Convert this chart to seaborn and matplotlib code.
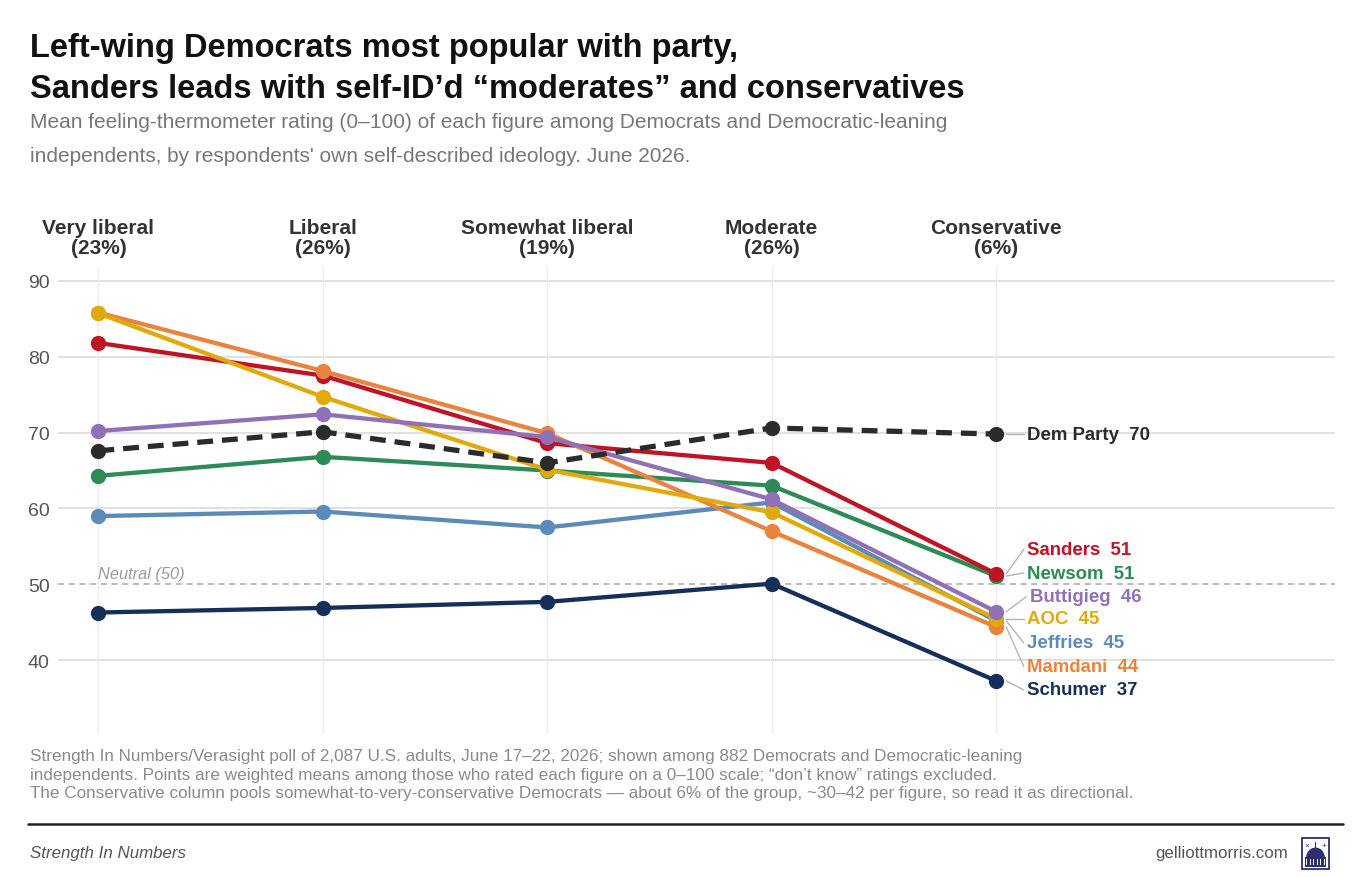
import matplotlib
matplotlib.use("Agg")
import matplotlib.pyplot as plt
import matplotlib.patches as mpatches
import seaborn as sns
import pandas as pd
import numpy as np

# ---------------- data ----------------
categories = ["Very liberal", "Liberal", "Somewhat liberal", "Moderate", "Conservative"]
shares = ["23%", "26%", "19%", "26%", "6%"]

schumer   = [46.3, 46.9, 47.7, 50.1, 37.3]
jeffries  = [59.0, 59.6, 57.5, 60.8, 45.2]
newsom    = [64.3, 66.8, 65.0, 63.0, 51.1]
sanders   = [81.8, 77.5, 68.6, 66.0, 51.4]
mamdani   = [85.8, 78.1, 69.9, 57.0, 44.4]
aoc       = [85.7, 74.7, 65.1, 59.5, 45.5]
buttigieg = [70.2, 72.4, 69.4, 61.2, 46.4]
dem_party = [67.6, 70.1, 66.0, 70.6, 69.8]

series_names = ["Schumer", "Jeffries", "Newsom", "Sanders", "Mamdani", "AOC", "Buttigieg", "Dem Party"]
series_vals = [schumer, jeffries, newsom, sanders, mamdani, aoc, buttigieg, dem_party]
end_labels = [37, 45, 51, 51, 44, 45, 46, 70]

# ---------------- style ----------------
colors = {
    "Schumer": "#14305a",
    "Jeffries": "#5b8cb9",
    "Newsom": "#2e8b57",
    "Sanders": "#bf1426",
    "Mamdani": "#e8843f",
    "AOC": "#e1aa0c",
    "Buttigieg": "#9071b8",
    "Dem Party": "#2b2b2b",
}
label_y = {
    "Dem Party": 69.8, "Sanders": 54.6, "Newsom": 51.5, "Buttigieg": 48.4,
    "AOC": 45.5, "Jeffries": 42.3, "Mamdani": 39.2, "Schumer": 36.1,
}

sns.set_theme(style="white")
plt.rcParams["font.family"] = ["Liberation Sans", "DejaVu Sans"]

rows = []
for name, vals in zip(series_names, series_vals):
    for i, v in enumerate(vals):
        rows.append({"figure": name, "x": i, "rating": v})
df = pd.DataFrame(rows)

fig = plt.figure(figsize=(13.72, 8.78), dpi=100)
ax = fig.add_axes([58 / 1372, 1 - 735 / 878, (1335 - 58) / 1372, (735 - 268) / 878])

ax.set_xlim(-0.18, 5.51)
ax.set_ylim(30.3, 91.8)

# grid
for yv in [40, 60, 70, 80, 90]:
    ax.axhline(yv, color="#dcdcdc", lw=1.2, zorder=0)
for xv in range(len(categories)):
    ax.axvline(xv, color="#ececec", lw=1.0, zorder=0)
ax.axhline(50, color="#a8a8a8", lw=1.1, ls=(0, (4, 3)), zorder=0.5)
ax.text(0.0, 50.5, "Neutral (50)", color="#9a9a9a", fontsize=11.8, style="italic",
        ha="left", va="bottom")

for name in series_names:
    sub = df[df["figure"] == name]
    dashed = name == "Dem Party"
    sns.lineplot(data=sub, x="x", y="rating", ax=ax, color=colors[name],
                 lw=3.8 if dashed else 3.1, marker="o", markersize=11,
                 markeredgewidth=0, linestyle=(0, (3.0, 1.7)) if dashed else "-",
                 legend=False, zorder=3, estimator=None)

# end labels with leader lines
lx = 4 + 31 / 224.5
for name, vals, lab in zip(series_names, series_vals, end_labels):
    y0 = vals[-1]
    ly = label_y[name]
    xoff = 0.012 if name == "Buttigieg" else 0.0
    ax.plot([4.045, lx - 0.015 + xoff], [y0, ly], color="#b5b5b5", lw=1.0, zorder=2)
    ax.text(lx + xoff, ly, f"{name}  {lab}", color=colors[name], fontsize=13.4,
            fontweight="bold", ha="left", va="center")

# axes cosmetics
for s in ax.spines.values():
    s.set_visible(False)
ax.set_xlabel("")
ax.set_ylabel("")
ax.set_yticks([40, 50, 60, 70, 80, 90])
ax.tick_params(axis="y", length=0, pad=6, labelsize=14, labelcolor="#555555")
ax.xaxis.tick_top()
ax.set_xticks(range(len(categories)))
ax.set_xticklabels([f"{c}\n({s})" for c, s in zip(categories, shares)],
                   fontweight="bold", fontsize=15, color="#333333", linespacing=1.1)
ax.tick_params(axis="x", length=0, pad=7)

# titles
fig.text(30 / 1372, 1 - 48 / 878, "Left-wing Democrats most popular with party,",
         fontsize=23.5, fontweight="bold", color="#111111", ha="left", va="center")
fig.text(30 / 1372, 1 - 90 / 878, "Sanders leads with self-ID\u2019d \u201cmoderates\u201d and conservatives",
         fontsize=23.5, fontweight="bold", color="#111111", ha="left", va="center")
fig.text(30 / 1372, 1 - 122 / 878,
         "Mean feeling-thermometer rating (0\u2013100) of each figure among Democrats and Democratic-leaning",
         fontsize=15, color="#777777", ha="left", va="center")
fig.text(30 / 1372, 1 - 156 / 878,
         "independents, by respondents' own self-described ideology. June 2026.",
         fontsize=15, color="#777777", ha="left", va="center")

# footnotes
notes = [
    "Strength In Numbers/Verasight poll of 2,087 U.S. adults, June 17\u201322, 2026; shown among 882 Democrats and Democratic-leaning",
    "independents. Points are weighted means among those who rated each figure on a 0\u2013100 scale; \u201cdon\u2019t know\u201d ratings excluded.",
    "The Conservative column pools somewhat-to-very-conservative Democrats \u2014 about 6% of the group, ~30\u201342 per figure, so read it as directional.",
]
for i, t in enumerate(notes):
    fig.text(30 / 1372, 1 - (757 + 18.5 * i) / 878, t, fontsize=12.3, color="#8a8a8a",
             ha="left", va="center")

fig.add_artist(plt.Line2D([28 / 1372, 1343 / 1372], [1 - 825 / 878] * 2,
                          color="#222222", lw=1.8, transform=fig.transFigure))
fig.text(30 / 1372, 1 - 854 / 878, "Strength In Numbers", fontsize=12.2, style="italic",
         color="#555555", ha="left", va="center")
fig.text(1288 / 1372, 1 - 854 / 878, "gelliottmorris.com", fontsize=12.2,
         color="#555555", ha="right", va="center")

# small capitol logo
iax = fig.add_axes([1300 / 1372, 1 - 871 / 878, 31 / 1372, 33 / 878])
iax.set_xlim(0, 1)
iax.set_ylim(0, 1)
iax.axis("off")
navy = "#2c2f6e"
iax.add_patch(mpatches.Rectangle((0.05, 0.03), 0.9, 0.94, fill=False, ec=navy, lw=1.3))
iax.add_patch(mpatches.Wedge((0.5, 0.38), 0.3, 0, 180, fc=navy, ec="none"))
iax.add_patch(mpatches.Rectangle((0.47, 0.66), 0.06, 0.2, fc=navy, ec="none"))
iax.add_patch(mpatches.Rectangle((0.15, 0.1), 0.7, 0.28, fc=navy, ec="none"))
for cx in np.linspace(0.22, 0.78, 6):
    iax.add_patch(mpatches.Rectangle((cx - 0.02, 0.14), 0.04, 0.2, fc="white", ec="none"))
iax.text(0.22, 0.75, "\u00d7", color=navy, fontsize=6, ha="center", va="center")
iax.text(0.78, 0.75, "+", color=navy, fontsize=6, ha="center", va="center")

fig.savefig("out.png", dpi=100)
